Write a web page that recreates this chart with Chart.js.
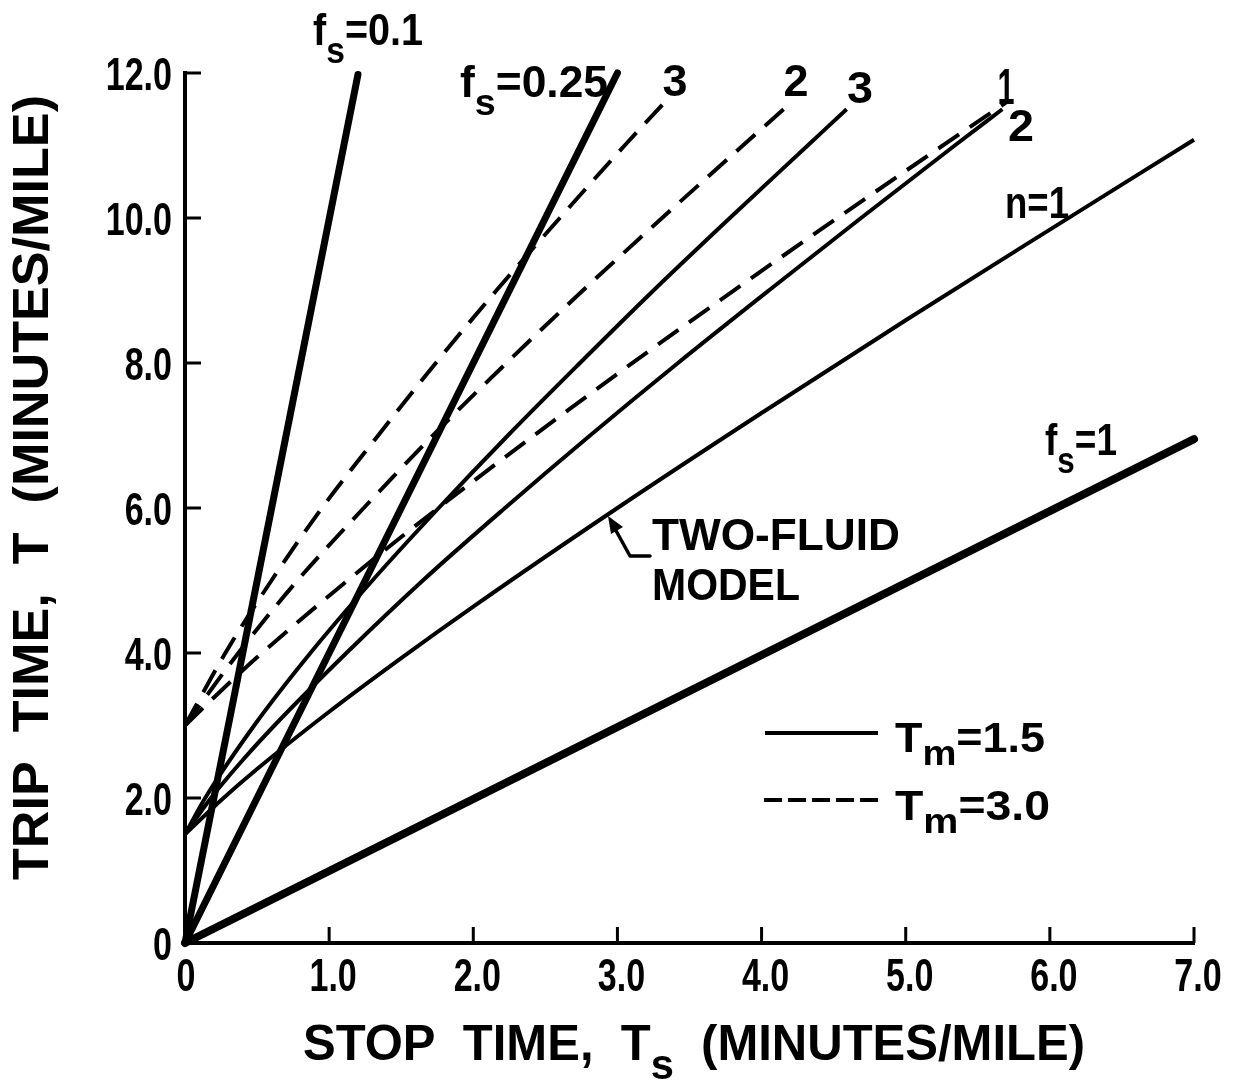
<!DOCTYPE html>
<html><head><meta charset="utf-8">
<script src="https://cdn.jsdelivr.net/npm/chart.js@4.4.1/dist/chart.umd.min.js"></script>
<style>html,body{margin:0;padding:0;background:#fff}#wrap{width:1240px;height:1082px}</style>
</head><body><div id="wrap"><canvas id="c" width="1240" height="1082"></canvas></div>
<script>
// ---- tick labels ----
const xTickValues = [0, 1, 2, 3, 4, 5, 6, 7];
const xTickLabels = ["0", "1.0", "2.0", "3.0", "4.0", "5.0", "6.0", "7.0"];
const yTickValues = [0, 2, 4, 6, 8, 10, 12];
const yTickLabels = ["0", "2.0", "4.0", "6.0", "8.0", "10.0", "12.0"];

// ---- f_s lines (thick) ----
const fs01Ts = [0, 1.2];   const fs01T = [0, 11.98];
const fs025Ts = [0, 3.0];  const fs025T = [0, 12.0];
const fs1Ts = [0, 7.0];    const fs1T = [0, 6.95];

// ---- two-fluid model, Tm = 1.5 (solid) ----
const n1SolidTs = [0, 0.25, 0.5, 1, 1.5, 2, 3, 4, 5, 6, 7];
const n1SolidT  = [1.5, 1.97, 2.40, 3.19, 3.93, 4.64, 6.0, 7.31, 8.59, 9.84, 11.08];
const n2SolidTs = [0, 0.18, 0.39, 0.62, 1.12, 1.65, 2.22, 2.81, 3.42, 4.05, 4.69, 5.34, 5.67];
const n2SolidT  = [1.5, 2, 2.5, 3, 4, 5, 6, 7, 8, 9, 10, 11, 11.5];
const n3SolidTs = [0, 0.14, 0.48, 0.87, 1.30, 1.76, 2.24, 2.74, 3.25, 3.78, 4.32, 4.59];
const n3SolidT  = [1.5, 2, 3, 4, 5, 6, 7, 8, 9, 10, 11, 11.5];

// ---- two-fluid model, Tm = 3.0 (dashed) ----
const n1DashTs = [0, 0.25, 0.5, 1, 1.5, 2, 3, 4, 5, 5.7];
const n1DashT  = [3.0, 3.48, 3.94, 4.79, 5.60, 6.37, 7.85, 9.27, 10.65, 11.6];
const n2DashTs = [0, 0.37, 0.78, 1.24, 1.72, 2.23, 2.76, 3.31, 3.87, 4.21];
const n2DashT  = [3, 4, 5, 6, 7, 8, 9, 10, 11, 11.6];
const n3DashTs = [0, 0.28, 0.60, 0.95, 1.34, 1.74, 2.16, 2.60, 3.05, 3.33];
const n3DashT  = [3, 4, 5, 6, 7, 8, 9, 10, 11, 11.6];

const SANS = '"Liberation Sans", Arial, sans-serif';

function pts(xs, ys) { return xs.map((v, i) => ({ x: v, y: ys[i] })); }

function thick(xs, ys, w) {
  return { data: pts(xs, ys), borderColor: '#000', borderWidth: w, pointRadius: 0,
           borderCapStyle: 'round', tension: 0, clip: 12 };
}
function thin(xs, ys, dashed) {
  return { data: pts(xs, ys), borderColor: '#000', borderWidth: 4, pointRadius: 0,
           borderDash: dashed ? [25, 13] : [], cubicInterpolationMode: 'monotone',
           borderCapStyle: 'butt', clip: 12 };
}

// rich text helper (with subscripts); horizontal scale via width or sx
function drawRich(ctx, parts, x, y, o) {
  ctx.save();
  ctx.translate(x, y);
  if (o.rotate) ctx.rotate(o.rotate);
  const fam = o.family || SANS;
  const wt = o.weight || 'bold';
  const mainFont = wt + ' ' + o.size + 'px ' + fam;
  const subFont = wt + ' ' + (o.size * (o.subScale || 0.85)) + 'px ' + fam;
  const widths = parts.map(p => { ctx.font = p.sub ? subFont : mainFont; return ctx.measureText(p.t).width; });
  const w = widths.reduce((a, b) => a + b, 0);
  const sx = o.width ? o.width / w : (o.sx || 1);
  ctx.scale(sx, 1);
  let cx = o.align === 'center' ? -w / 2 : (o.align === 'right' ? -w : 0);
  ctx.fillStyle = '#000'; ctx.textBaseline = 'alphabetic'; ctx.textAlign = 'left';
  parts.forEach((p, i) => {
    ctx.font = p.sub ? subFont : mainFont;
    ctx.fillText(p.t, cx, p.sub ? o.size * (o.subDrop || 0.38) : 0);
    cx += widths[i];
  });
  ctx.restore();
}

const decor = {
  id: 'decor',
  afterDraw(chart) {
    const { ctx, scales: { x, y }, chartArea: a } = chart;
    ctx.save();
    // inward ticks
    ctx.strokeStyle = '#000'; ctx.lineWidth = 3; ctx.setLineDash([]);
    xTickValues.forEach(v => { if (v === 0) return; const px = x.getPixelForValue(v);
      ctx.beginPath(); ctx.moveTo(px, a.bottom); ctx.lineTo(px, a.bottom - 16); ctx.stroke(); });
    yTickValues.forEach(v => { if (v === 0) return; const py = y.getPixelForValue(v);
      ctx.beginPath(); ctx.moveTo(a.left, py); ctx.lineTo(a.left + 16, py); ctx.stroke(); });

    // tick labels (positioned by the scales)
    const TS = 46, TK = 0.74;
    xTickValues.forEach((v, i) => {
      drawRich(ctx, [{ t: xTickLabels[i] }], x.getPixelForValue(v) + (i === 0 ? 1 : 4), a.bottom + 48,
        { size: TS, sx: TK, align: 'center' });
    });
    yTickValues.forEach((v, i) => {
      drawRich(ctx, [{ t: yTickLabels[i] }], a.left - 13, y.getPixelForValue(v) + 17,
        { size: TS, sx: TK, align: 'right' });
    });

    // axis titles
    drawRich(ctx, [{ t: 'STOP  TIME,  T' }, { t: 's', sub: true }, { t: '  (MINUTES/MILE)' }],
      303, 1060, { size: 50, width: 782 });
    drawRich(ctx, [{ t: 'TRIP  TIME,  T  (MINUTES/MILE)' }],
      48, 880, { size: 50, width: 785, rotate: -Math.PI / 2 });

    // curve labels
    const S = 44;
    drawRich(ctx, [{ t: 'f' }, { t: 's', sub: true }, { t: '=0.1' }], 313, 45, { size: S, width: 110, subDrop: 0.42 });
    drawRich(ctx, [{ t: 'f' }, { t: 's', sub: true }, { t: '=0.25' }], 460, 97, { size: S, width: 148, subDrop: 0.42 });
    drawRich(ctx, [{ t: '3' }], 675, 96, { size: S, align: 'center', width: 25 });
    drawRich(ctx, [{ t: '2' }], 796, 96, { size: S, align: 'center', width: 25 });
    drawRich(ctx, [{ t: '3' }], 860, 103, { size: S, align: 'center', width: 26 });
    drawRich(ctx, [{ t: '1' }], 1006, 104, { size: 50, align: 'center', width: 17 });
    drawRich(ctx, [{ t: '2' }], 1021, 141, { size: S, align: 'center', width: 26 });
    drawRich(ctx, [{ t: 'n=1' }], 1005, 218, { size: S, width: 64 });
    drawRich(ctx, [{ t: 'f' }, { t: 's', sub: true }, { t: '=1' }], 1045, 455, { size: S, width: 72, subDrop: 0.42 });
    drawRich(ctx, [{ t: 'TWO-FLUID' }], 652, 550, { size: S, width: 248 });
    drawRich(ctx, [{ t: 'MODEL' }], 652, 600, { size: S, width: 148 });

    // arrow for two-fluid model
    ctx.lineWidth = 3.5; ctx.lineCap = 'round'; ctx.lineJoin = 'round';
    ctx.beginPath(); ctx.moveTo(650, 556); ctx.lineTo(630, 556); ctx.lineTo(614, 527); ctx.stroke();
    ctx.beginPath(); ctx.moveTo(608, 516); ctx.lineTo(623, 527); ctx.lineTo(611, 534); ctx.closePath(); ctx.fill();

    // legend
    ctx.lineWidth = 4; ctx.lineCap = 'butt';
    ctx.beginPath(); ctx.moveTo(765, 733); ctx.lineTo(878, 733); ctx.stroke();
    ctx.setLineDash([18, 6]);
    ctx.beginPath(); ctx.moveTo(764, 800); ctx.lineTo(878, 800); ctx.stroke();
    ctx.setLineDash([]);
    drawRich(ctx, [{ t: 'T' }, { t: 'm', sub: true }, { t: '=1.5' }], 895, 752, { size: 42, width: 150, subDrop: 0.3 });
    drawRich(ctx, [{ t: 'T' }, { t: 'm', sub: true }, { t: '=3.0' }], 895, 820, { size: 42, width: 155, subDrop: 0.3 });
    ctx.restore();
  }
};

new Chart(document.getElementById('c'), {
  type: 'line',
  data: {
    datasets: [
      thick(fs01Ts, fs01T, 7),
      thick(fs025Ts, fs025T, 7),
      thick(fs1Ts, fs1T, 8),
      thin(n1SolidTs, n1SolidT, false),
      thin(n2SolidTs, n2SolidT, false),
      thin(n3SolidTs, n3SolidT, false),
      thin(n1DashTs, n1DashT, true),
      thin(n2DashTs, n2DashT, true),
      thin(n3DashTs, n3DashT, true)
    ]
  },
  options: {
    responsive: false, animation: false, devicePixelRatio: 1,
    layout: { padding: { top: 73, right: 46, left: 0, bottom: 0 } },
    plugins: { legend: { display: false }, tooltip: { enabled: false }, title: { display: false } },
    scales: {
      x: {
        type: 'linear', min: 0, max: 7,
        afterBuildTicks: s => { s.ticks = xTickValues.map(v => ({ value: v })); },
        afterFit: s => { s.height = 139; },
        ticks: { display: false, callback: v => xTickLabels[xTickValues.indexOf(v)], autoSkip: false },
        grid: { display: true, drawOnChartArea: false, drawTicks: false },
        border: { display: true, color: '#000', width: 4 }
      },
      y: {
        type: 'linear', min: 0, max: 12,
        afterBuildTicks: s => { s.ticks = yTickValues.map(v => ({ value: v })); },
        afterFit: s => { s.width = 185; },
        ticks: { display: false, callback: v => yTickLabels[yTickValues.indexOf(v)], autoSkip: false },
        grid: { display: true, drawOnChartArea: false, drawTicks: false },
        border: { display: true, color: '#000', width: 4 }
      }
    }
  },
  plugins: [decor]
});
</script>
</body></html>
